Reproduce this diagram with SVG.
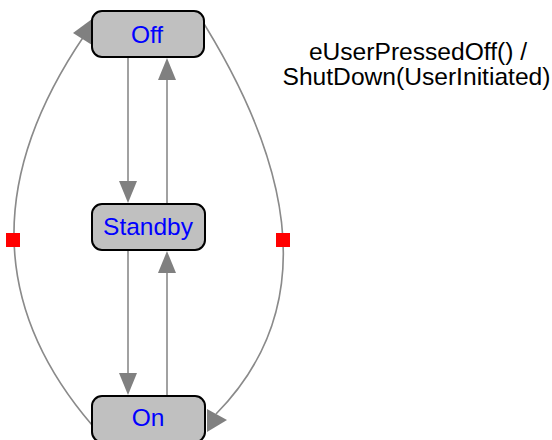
<svg xmlns="http://www.w3.org/2000/svg" width="552" height="440" viewBox="0 0 552 440">
  <style>
    .state rect { fill: #c0c0c0; stroke: #000; stroke-width: 2; }
    .state text { font-family: "Liberation Sans", Arial, sans-serif; font-size: 24.5px; fill: #0000ff; text-anchor: middle; }
    .edge { fill: none; stroke: #8a8a8a; stroke-width: 1.6; }
    .head { fill: #808080; stroke: none; }
    .handle { fill: #ff0000; }
    .label { font-family: "Liberation Sans", Arial, sans-serif; font-size: 24.6px; fill: #000; text-anchor: middle; }
  </style>
  <rect width="552" height="440" fill="#fff"/>

  <!-- transitions -->
  <g id="connectors">
    <!-- Off -> Standby -->
    <line class="edge" x1="128" y1="57" x2="128" y2="182"/>
    <polygon class="head" points="119,181 137,181 128,203"/>
    <!-- Standby -> Off -->
    <line class="edge" x1="167" y1="204" x2="167" y2="79"/>
    <polygon class="head" points="158,80 176,80 167,58"/>
    <!-- Standby -> On -->
    <line class="edge" x1="128" y1="250" x2="128" y2="374"/>
    <polygon class="head" points="119,373 137,373 128,395"/>
    <!-- On -> Standby -->
    <line class="edge" x1="167" y1="396" x2="167" y2="272"/>
    <polygon class="head" points="158,273 176,273 167,251"/>
    <!-- On -> Off (left arc) -->
    <path class="edge" d="M92,425 Q-60,248 84,36"/>
    <polygon class="head" points="73,33 92,19 92,45"/>
    <rect class="handle" x="6" y="233" width="14" height="14"/>
    <!-- Off -> On (right arc) -->
    <path class="edge" d="M196,11 Q360,268 216,414"/>
    <polygon class="head" points="207,409 227,420 207,432"/>
    <rect class="handle" x="276" y="233" width="14" height="14"/>
  </g>

  <g id="state-off" class="state">
    <rect x="92" y="11" width="112" height="46" rx="10"/>
    <text x="147" y="43">Off</text>
  </g>
  <g id="state-standby" class="state">
    <rect x="92" y="204" width="113" height="46" rx="10"/>
    <text x="148" y="235">Standby</text>
  </g>
  <g id="state-on" class="state">
    <rect x="92" y="396" width="113" height="46" rx="10"/>
    <text x="148" y="426">On</text>
  </g>

  <g id="transition-label">
    <text class="label" x="418" y="60">eUserPressedOff() /</text>
    <text class="label" x="416.5" y="85">ShutDown(UserInitiated)</text>
  </g>
</svg>
